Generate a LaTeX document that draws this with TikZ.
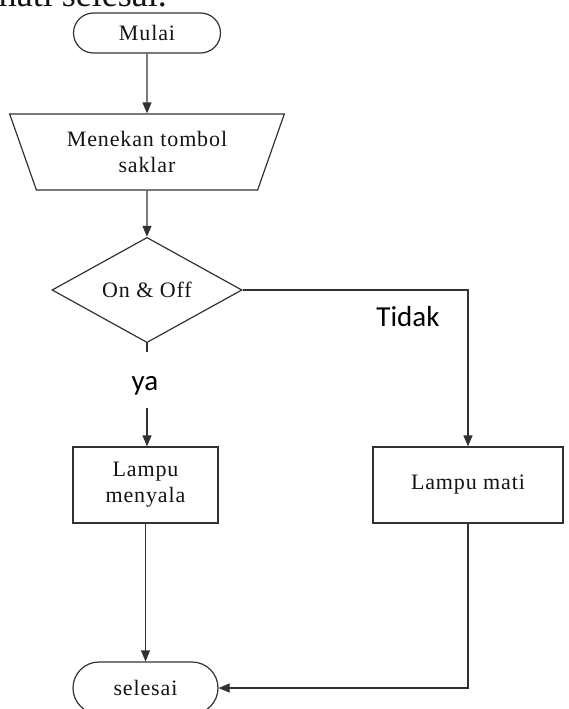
\documentclass[tikz,border=0pt]{standalone}
\usepackage{fontspec}
\setmainfont{Liberation Serif}
\newfontfamily\boxfont{Liberation Serif}[LetterSpace=4]
\newfontfamily\labelfont{Carlito}
\usepackage{tikz}
\usetikzlibrary{shapes.geometric,arrows.meta,positioning}
\definecolor{linegray}{RGB}{50,50,50}
\definecolor{textgray}{RGB}{20,20,20}

\begin{document}
\begin{tikzpicture}[x=1pt, y=-1pt,
  font={\boxfont\fontsize{22}{26}\selectfont}, text=textgray,
  terminal/.style={draw=linegray, line width=1.2pt, inner sep=0pt},
  process/.style={draw=linegray, line width=1.2pt, inner sep=0pt,
                  minimum height=76pt, align=center},
  flow/.style={draw=linegray, line width=1.2pt,
               -{Triangle[length=11pt,width=9pt]}},
  plain/.style={draw=linegray, line width=1.2pt}]
  \useasboundingbox (0,0) rectangle (568,709);
  \clip (0,0) rectangle (568,709);

  % line of page text cut at the top
  \node[anchor=base east, inner sep=0pt,
        font={\rmfamily\fontsize{36}{40}\selectfont}]
    (pagetext) at (167,7) {mati selesai.};

  % steps
  \node[terminal, rounded corners=20pt, minimum width=147pt,
        minimum height=40pt] (start) at (147,33) {Mulai};
  \node[draw=linegray, line width=1.2pt, trapezium, trapezium stretches=true,
        trapezium left angle=65, trapezium right angle=65,
        shape border rotate=180, minimum width=275pt, minimum height=76pt,
        inner sep=0pt, align=center]
    (press) at (147,152) {Menekan tombol\\saklar};
  \node[draw=linegray, line width=1.2pt, diamond, minimum width=190pt,
        minimum height=76pt, inner sep=0pt] (check) at (147,290) {On \& Off};
  \node[process, minimum width=145pt] (on) at (145.5,485)
    {Lampu\\menyala};
  \node[process, minimum width=190pt] (off) at (468,485) {Lampu mati};
  \node[terminal, rounded corners=26pt, minimum width=145pt,
        minimum height=52pt] (stop) at (145.5,688) {selesai};

  % branch labels
  \node[font={\labelfont\fontsize{29}{34}\selectfont}, text=black]
    (yes) at (145,386) {ya};
  \node[font={\labelfont\fontsize{29}{34}\selectfont}, text=black]
    (no) at (408,317) {Tidak};
  \coordinate (yestop) at (147,352);
  \coordinate (yesbot) at (147,408);

  % connectors
  \draw[flow] (start.south) -- (press.north);
  \draw[flow] (press.south) -- (check.north);
  \draw[plain] (check.south) -- (yestop);
  \draw[flow] (yesbot) -- (on.north -| yesbot);
  \draw[flow] (check.east) -| (off.north);
  \draw[flow] (on.south) -- (stop.north);
  \draw[flow] (off.south) |- (stop.east);
\end{tikzpicture}
\end{document}
